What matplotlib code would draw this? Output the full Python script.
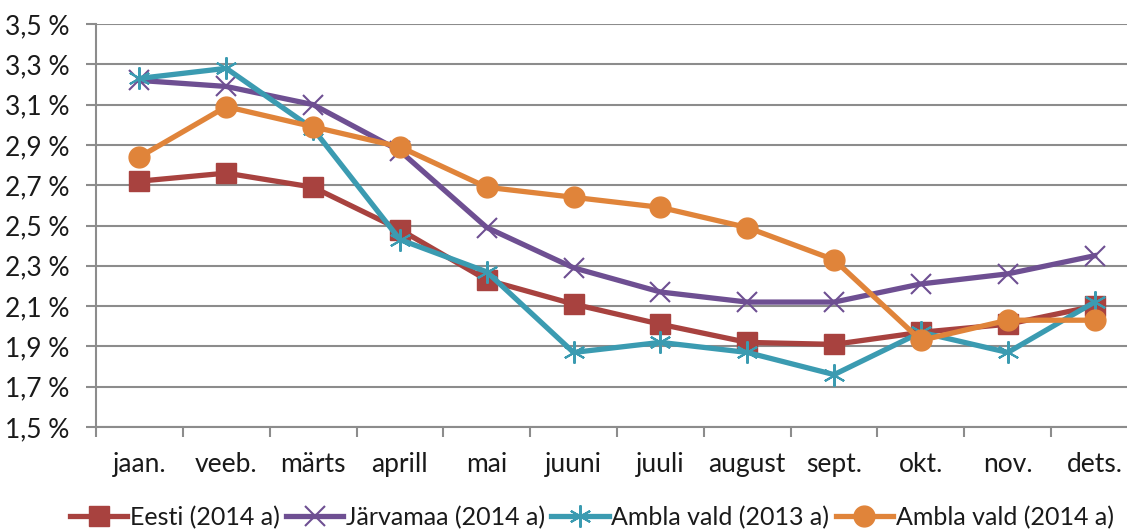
import matplotlib
matplotlib.use('Agg')
import matplotlib.pyplot as plt
import matplotlib.ticker as mticker
import numpy as np

months = ['jaan.', 'veeb.', 'märts', 'aprill', 'mai', 'juuni', 'juuli',
          'august', 'sept.', 'okt.', 'nov.', 'dets.']

eesti_2014 = [2.72, 2.76, 2.69, 2.48, 2.23, 2.11, 2.01, 1.92, 1.91, 1.97, 2.01, 2.10]
jarvamaa_2014 = [3.22, 3.19, 3.10, 2.87, 2.49, 2.29, 2.17, 2.12, 2.12, 2.21, 2.26, 2.35]
ambla_2013 = [3.23, 3.28, 2.98, 2.43, 2.27, 1.87, 1.92, 1.87, 1.76, 1.97, 1.87, 2.12]
ambla_2014 = [2.84, 3.09, 2.99, 2.89, 2.69, 2.64, 2.59, 2.49, 2.33, 1.93, 2.03, 2.03]

plt.rcParams['font.family'] = ['Lato', 'DejaVu Sans']

fig = plt.figure(figsize=(11.27, 5.29), dpi=100)
# axis runs past the right edge of the picture, as in the original
ax = fig.add_axes([96 / 1127, 1 - 427 / 529, 1042 / 1127, 403 / 529])

x = np.arange(len(months))
lw = 3.8
ax.plot(x, eesti_2014, color='#A8423F', lw=lw, marker='s', ms=14,
        label='Eesti (2014 a)', zorder=3)
ax.plot(x, jarvamaa_2014, color='#6E4F92', lw=lw, marker='x', ms=15, mew=1.5,
        label='Järvamaa (2014 a)', zorder=3)
ax.plot(x, ambla_2013, color='#3B9BB1', lw=lw, marker=(6, 2, 0), ms=16, mew=1.5,
        label='Ambla vald (2013 a)', zorder=4)
ax.plot(x, ambla_2014, color='#E0843A', lw=lw, marker='o', ms=15,
        label='Ambla vald (2014 a)', zorder=5)

ax.set_xlim(-0.5, len(months) - 0.5)
ax.set_ylim(1.5, 3.5)
ax.set_yticks(np.arange(1.5, 3.51, 0.2))
ax.yaxis.set_major_formatter(mticker.FuncFormatter(
    lambda v, p: f'{v:.1f} %'.replace('.', ',')))
ax.set_xticks(x)
ax.set_xticklabels(months)
ax.set_xticks(np.arange(-0.5, len(months), 1), minor=True)
ax.tick_params(axis='x', which='major', length=0, pad=18, labelsize=19,
               labelcolor='#1a1a1a')
ax.tick_params(axis='x', which='minor', length=7, width=1.5, color='#8C8C8C',
               direction='out')
ax.tick_params(axis='y', length=7, width=1.5, color='#8C8C8C', direction='out',
               pad=12, labelsize=19, labelcolor='#1a1a1a')

ax.grid(axis='y', color='#8C8C8C', lw=1.5)
ax.set_axisbelow(True)
for side in ['top', 'right']:
    ax.spines[side].set_visible(False)
for side in ['left', 'bottom']:
    ax.spines[side].set_color('#8C8C8C')
    ax.spines[side].set_linewidth(1.5)

fig.legend(loc='center', bbox_to_anchor=(0.525, 0.022), ncol=4, frameon=False,
           prop={'size': 18}, labelcolor='#1a1a1a',
           handlelength=2.3, handletextpad=0.1, columnspacing=0.25)

fig.savefig('out.png', dpi=100)
